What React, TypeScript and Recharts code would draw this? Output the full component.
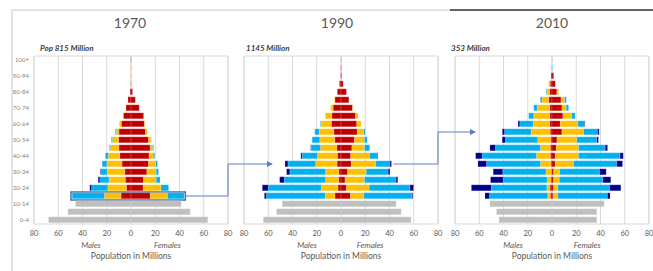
import React from "react";
import { BarChart, Bar, XAxis, YAxis, CartesianGrid, ReferenceArea } from "recharts";

// ---------- categories & ticks ----------
const AGE_GROUPS = ["100+","95-99","90-94","85-89","80-84","75-79","70-74","65-69","60-64","55-59","50-54","45-49","40-44","35-39","30-34","25-29","20-24","15-19","10-14","5-9","0-4"];
const X_TICKS = [-80, -60, -40, -20, 0, 20, 40, 60, 80];
const YEARS = ["1970", "1990", "2010"];
const SUBTITLES = ["Pop 815 Million", "1145 Million", "353 Million"];

// ---------- 1970 (millions, rows top 100+ -> bottom 0-4) ----------
const male1970Red =      [0.2,0.2,0.2,0.3,0.8,2.5,4.1,6.3,8.0,9.9,10.3,10.0,9.3,7.4,5.2,4.7,3.8,8.2,0,0,0];
const male1970Yellow =   [0,0.1,0.2,0.2,0,0,0,0.3,1.5,2.2,5.0,7.0,9.5,12.5,14.5,13.5,15.3,13.7,0,0,0];
const male1970Blue =     [0,0,0,0,0,0,0,0,0.2,0.8,0.9,0.8,2.3,3.9,4.7,7.5,13.4,26.6,0,0,0];
const male1970Navy =     [0,0,0,0,0,0,0,0,0,0,0,0,0,0,0.8,1.4,1.5,0,0,0,0];
const male1970Gray =     [0,0,0,0,0,0,0,0,0,0,0,0,0,0,0,0,0,0,45.8,52.0,68.0];
const female1970Red =    [0.2,0.2,0.2,0.3,1.3,3.6,6.8,10.4,11.0,12.0,14.5,15.8,15.0,14.5,13.1,10.4,10.0,15.9,0,0,0];
const female1970Yellow = [0,0.1,0.2,0.1,0,0,0,0,0.5,1.4,2.0,2.0,3.3,6.0,7.7,10.4,14.8,14.2,0,0,0];
const female1970Blue =   [0,0,0,0,0,0,0,0,0,0,0.2,0.8,1.2,1.4,1.9,3.2,6.2,13.7,0,0,0];
const female1970Navy =   [0,0,0,0,0,0,0,0,0,0,0,0,0,0,0,0,0,0,0,0,0];
const female1970Gray =   [0,0,0,0,0,0,0,0,0,0,0,0,0,0,0,0,0,0,41.4,48.8,63.3];

// ---------- 1990 ----------
const male1990Red =      [0.1,0.2,0.3,1.3,3.0,5.0,6.5,7.5,8.0,6.0,5.2,3.5,3.0,3.2,1.9,2.0,2.5,5.0,0,0,0];
const male1990Yellow =   [0,0,0,0,0,0.5,2.0,5.5,8.5,12.0,12.3,13.5,16.4,17.7,10.8,10.7,13.7,8.0,0,0,0];
const male1990Blue =     [0,0,0,0,0,0,0,0,0.5,3.6,6.3,7.5,12.6,22.9,29.5,34.1,43.8,48.5,0,0,0];
const male1990Navy =     [0,0,0,0,0,0,0,0,0,0,0,0.5,1.1,2.4,2.7,3.8,4.9,1.7,0,0,0];
const male1990Gray =     [0,0,0,0,0,0,0,0,0,0,0,0,0,0,0,0,0,0,48.5,53.2,64.1];
const female1990Red =    [0.2,0.3,0.5,1.8,4.5,6.5,9.5,12.0,13.0,13.4,11.2,9.0,8.0,8.5,5.5,3.3,4.6,7.8,0,0,0];
const female1990Yellow = [0,0,0,0,0,0,0.5,2.0,3.5,5.5,8.2,10.5,15.6,20.2,15.3,16.1,18.6,11.0,0,0,0];
const female1990Blue =   [0,0,0,0,0,0,0,0,0,1.1,2.2,3.8,6.3,11.5,18.1,26.0,33.7,39.6,0,0,0];
const female1990Navy =   [0,0,0,0,0,0,0,0,0,0,0,0.3,0.5,1.4,1.4,1.4,3.0,0.8,0,0,0];
const female1990Gray =   [0,0,0,0,0,0,0,0,0,0,0,0,0,0,0,0,0,0,45.5,49.6,57.8];

// ---------- 2010 ----------
const male2010Red =      [0,0,0.8,1.5,2.0,2.7,1.9,1.9,1.9,1.5,1.0,1.4,1.4,0.8,0.6,0.8,1.6,1.4,0,0,0];
const male2010Yellow =   [0,0,0,1.2,2.0,5.5,10.4,13.2,13.7,15.7,10.8,8.2,11.5,8.8,4.4,3.3,2.7,2.1,0,0,0];
const male2010Blue =     [0.2,0.3,0,0,0.7,1.4,2.7,4.1,11.0,21.9,26.6,37.0,44.7,44.4,35.6,36.2,45.8,48.0,0,0,0];
const male2010Navy =     [0,0,0,0,0,0,0,0,1.4,1.9,2.7,4.6,5.4,7.1,7.9,10.4,16.4,3.8,0,0,0];
const male2010Gray =     [0,0,0,0,0,0,0,0,0,0,0,0,0,0,0,0,0,0,51.2,45.8,43.8];
const female2010Red =    [0,0,1.4,2.7,4.0,7.4,8.2,9.0,6.8,8.2,4.1,3.6,2.7,2.7,1.4,1.4,1.4,0.8,0,0,0];
const female2010Yellow = [0,0,0,0,1.5,3.0,3.6,7.4,14.5,17.8,16.4,18.4,19.2,15.0,4.9,4.6,3.5,4.0,0,0,0];
const female2010Blue =   [0.2,0.3,0,0,0,1.4,1.9,2.7,5.5,11.5,16.4,21.9,34.2,35.6,32.9,35.9,42.6,40.9,0,0,0];
const female2010Navy =   [0,0,0,0,0,0,0,0,0.5,1.4,1.4,1.9,2.7,4.9,5.5,6.6,9.3,2.2,0,0,0];
const female2010Gray =   [0,0,0,0,0,0,0,0,0,0,0,0,0,0,0,0,0,0,43.0,37.0,37.0];

// ---------- styling / layout ----------
const RED = "#c00000";
const YELLOW = "#ffc000";
const BLUE = "#00b0f0";
const NAVY = "#00008b";
const GRAY = "#bfbfbf";
const GRID = "#d9d9d9";
const TEXT = "#595959";
const LINK = "#5b80c4";
const FONT = "Lato, 'Open Sans', sans-serif";

const CHART_H = 271;
const PLOT_TOP = 56;
const PLOT_H = 168;
const PLOT_W = 194;
const PANEL_LEFT = [34, 244, 455];
const Y_AXIS_W = 22;
const SIDE_PAD = 12;
const TITLE_X = [130, 337, 552];
const SUBTITLE_X = [40, 246, 451];
const HIGHLIGHT_AGE = "15-19";
const LINKS = [
  { from: 0, fromAge: "15-19", to: 1, toAge: "35-39", tipValue: -57 },
  { from: 1, fromAge: "35-39", to: 2, toAge: "55-59", tipValue: -63.5 },
];

const SERIES = [
  { key: "Red", color: RED },
  { key: "Yellow", color: YELLOW },
  { key: "Blue", color: BLUE },
  { key: "Navy", color: NAVY },
  { key: "Gray", color: GRAY },
];

const MALE = [
  [male1970Red, male1970Yellow, male1970Blue, male1970Navy, male1970Gray],
  [male1990Red, male1990Yellow, male1990Blue, male1990Navy, male1990Gray],
  [male2010Red, male2010Yellow, male2010Blue, male2010Navy, male2010Gray],
];
const FEMALE = [
  [female1970Red, female1970Yellow, female1970Blue, female1970Navy, female1970Gray],
  [female1990Red, female1990Yellow, female1990Blue, female1990Navy, female1990Gray],
  [female2010Red, female2010Yellow, female2010Blue, female2010Navy, female2010Gray],
];

function buildRows(p: number) {
  return AGE_GROUPS.map((age, i) => {
    const row: any = { age };
    SERIES.forEach((s, k) => {
      row["m" + s.key] = -MALE[p][k][i];
      row["f" + s.key] = FEMALE[p][k][i];
    });
    return row;
  });
}

function total(arrs: number[][], age: string) {
  const i = AGE_GROUPS.indexOf(age);
  return arrs.reduce((acc, a) => acc + a[i], 0);
}

const xAt = (p: number, v: number) => PANEL_LEFT[p] + ((v + 80) / 160) * PLOT_W;
const rowY = (age: string) => PLOT_TOP + (AGE_GROUPS.indexOf(age) + 0.5) * (PLOT_H / AGE_GROUPS.length);

function Pyramid({ p }: { p: number }) {
  const showY = p === 0;
  const yW = showY ? Y_AXIS_W : 0;
  const leftPad = showY ? 0 : SIDE_PAD;
  const rows = buildRows(p);
  const hiM = total(MALE[p], HIGHLIGHT_AGE);
  const hiF = total(FEMALE[p], HIGHLIGHT_AGE);
  return (
    <div style={{ position: "absolute", left: PANEL_LEFT[p] - yW - leftPad, top: 0 }}>
      <BarChart
        width={leftPad + yW + PLOT_W + SIDE_PAD}
        height={CHART_H}
        data={rows}
        layout="vertical"
        stackOffset="sign"
        barCategoryGap="10%"
        margin={{ top: PLOT_TOP, right: SIDE_PAD, bottom: 0, left: leftPad }}
      >
        <CartesianGrid horizontal={false} stroke={GRID} />
        <ReferenceArea x1={-80} x2={80} fill="none" stroke={GRID} />
        <XAxis
          type="number"
          domain={[-80, 80]}
          ticks={X_TICKS}
          tickFormatter={(v: number) => String(Math.abs(v))}
          axisLine={false}
          tickLine={false}
          tickSize={6}
          tickMargin={1}
          height={CHART_H - PLOT_TOP - PLOT_H}
          tick={{ fontSize: 7.5, fill: TEXT, fontFamily: FONT }}
          interval={0}
        />
        <YAxis
          type="category"
          dataKey="age"
          hide={!showY}
          width={yW}
          interval={1}
          axisLine={false}
          tickLine={false}
          tickSize={0}
          tickMargin={5}
          tick={{ fontSize: 6, fill: "#7f7f7f", fontFamily: FONT }}
        />
        {SERIES.map((s) => (
          <Bar key={"m" + s.key} dataKey={"m" + s.key} stackId="s" fill={s.color} stroke="#ffffff" strokeOpacity={0.6} strokeWidth={0.3} isAnimationActive={false} />
        ))}
        {SERIES.map((s) => (
          <Bar key={"f" + s.key} dataKey={"f" + s.key} stackId="s" fill={s.color} stroke="#ffffff" strokeOpacity={0.6} strokeWidth={0.3} isAnimationActive={false} />
        ))}
        {p === 0 && (
          <ReferenceArea
            y1={HIGHLIGHT_AGE}
            y2={HIGHLIGHT_AGE}
            x1={-hiM - 1}
            x2={hiF + 1}
            fill="none"
            stroke="#4a6ea8"
            strokeWidth={1.5}
          />
        )}
      </BarChart>
    </div>
  );
}

const centered = (x: number, y: number, style: React.CSSProperties, text: string) => (
  <div
    style={{
      position: "absolute",
      left: x,
      top: y,
      transform: "translate(-50%, -50%)",
      whiteSpace: "nowrap",
      lineHeight: 1,
      fontFamily: FONT,
      ...style,
    }}
  >
    {text}
  </div>
);

export default function App() {
  const linkPaths = LINKS.map((l) => {
    const startX = xAt(l.from, total(FEMALE[l.from], l.fromAge)) + 2;
    const y1 = rowY(l.fromAge);
    const midX = PANEL_LEFT[l.from] + PLOT_W;
    const y2 = rowY(l.toAge);
    const tipX = xAt(l.to, l.tipValue);
    return `M${startX},${y1} H${midX} V${y2} H${tipX}`;
  });
  return (
    <div style={{ position: "absolute", left: 0, top: 0, width: 653, height: 271, background: "#fff", overflow: "hidden" }}>
      {[0, 1, 2].map((p) => (
        <Pyramid key={p} p={p} />
      ))}
      {[0, 1, 2].map((p) => (
        <React.Fragment key={"t" + p}>
          {centered(TITLE_X[p], 23, { fontSize: 14, color: TEXT, fontWeight: 400 }, YEARS[p])}
          <div
            style={{
              position: "absolute",
              left: SUBTITLE_X[p],
              top: 44,
              fontFamily: FONT,
              fontSize: 8,
              fontWeight: 700,
              fontStyle: "italic",
              color: "#404040",
              whiteSpace: "nowrap",
              lineHeight: 1,
            }}
          >
            {SUBTITLES[p]}
          </div>
          {centered(xAt(p, [-33, -28, -32][p]), 245, { fontSize: 8, fontStyle: "italic", color: TEXT }, "Males")}
          {centered(xAt(p, [30, 24, 29][p]), 245, { fontSize: 8, fontStyle: "italic", color: TEXT }, "Females")}
          {centered(xAt(p, 0), 256, { fontSize: 8.5, color: TEXT }, "Population in Millions")}
        </React.Fragment>
      ))}
      <svg width={653} height={271} style={{ position: "absolute", left: 0, top: 0, pointerEvents: "none" }}>
        <defs>
          <marker id="arr" markerWidth="6" markerHeight="6" refX="5" refY="3" orient="auto" markerUnits="userSpaceOnUse">
            <path d="M0,0 L6,3 L0,6 z" fill={LINK} />
          </marker>
        </defs>
        <line x1={12} y1={10} x2={450} y2={10} stroke={GRID} strokeWidth={1.5} />
        <line x1={450} y1={10} x2={653} y2={10} stroke="#303030" strokeWidth={1.5} />
        <line x1={12} y1={10} x2={12} y2={271} stroke={GRID} strokeWidth={1.5} />
        {linkPaths.map((d, i) => (
          <path key={i} d={d} fill="none" stroke={LINK} strokeWidth={1} markerEnd="url(#arr)" />
        ))}
      </svg>
    </div>
  );
}
